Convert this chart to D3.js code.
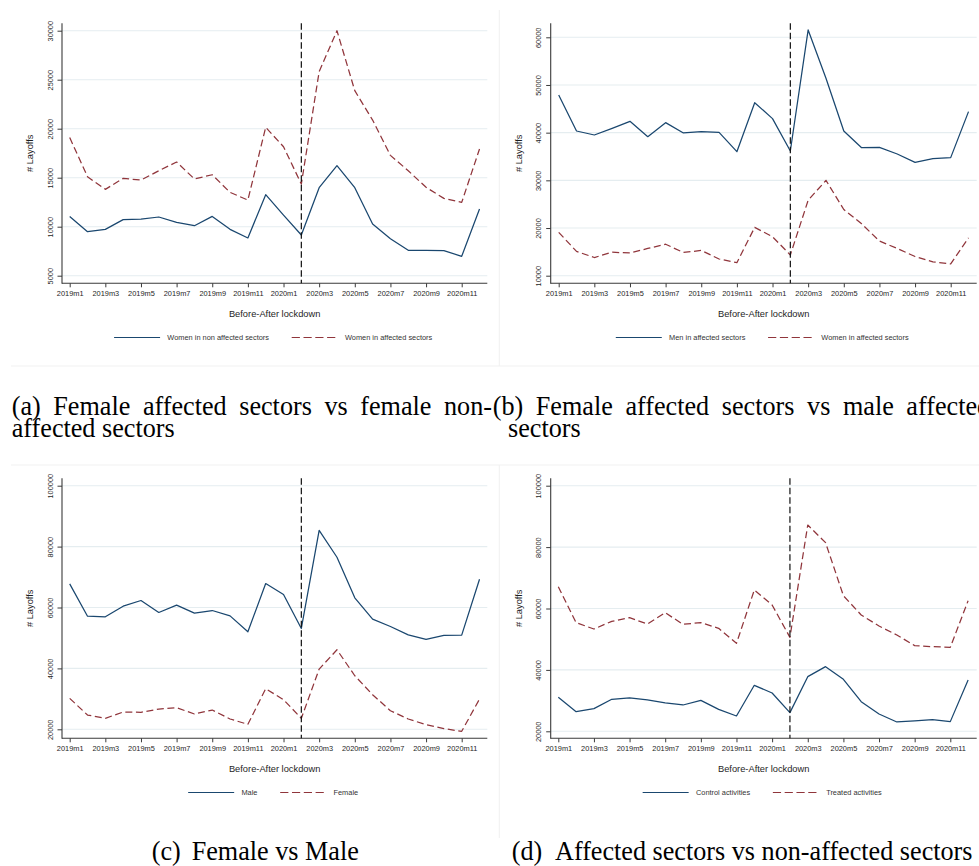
<!DOCTYPE html>
<html>
<head>
<meta charset="utf-8">
<script src="https://cdn.jsdelivr.net/npm/d3@7"></script>
<style>
  body { margin: 0; background: #fff; }
  svg { display: block; }
  text { font-family: "Liberation Sans", Arial, sans-serif; }
  text.cap { font-family: "Liberation Serif", "Times New Roman", serif; }
</style>
</head>
<body>
<svg id="fig" width="979" height="866"></svg>
<script>
// Monthly layoffs, January 2019 to December 2020
const months = [
  "2019m1","2019m2","2019m3","2019m4","2019m5","2019m6","2019m7","2019m8","2019m9","2019m10","2019m11","2019m12",
  "2020m1","2020m2","2020m3","2020m4","2020m5","2020m6","2020m7","2020m8","2020m9","2020m10","2020m11","2020m12"
];
const tickMonths = ["2019m1","2019m3","2019m5","2019m7","2019m9","2019m11","2020m1","2020m3","2020m5","2020m7","2020m9","2020m11"];
const lockdownMonth = "2020m2";

const womenNonAffected = [11050, 9490, 9730, 10720, 10780, 10990, 10440, 10100, 11050, 9730, 8850, 13270,
                          11190, 9150, 13980, 16230, 13980, 10270, 8780, 7590, 7590, 7550, 6980, 11810];
const womenAffected    = [19100, 15100, 13810, 14930, 14760, 15710, 16600, 14870, 15300, 13500, 12720, 20140,
                          18160, 14350, 25820, 30000, 23880, 20880, 17280, 15710, 14020, 12890, 12480, 17930];
const menAffected      = [47900, 40350, 39510, 40910, 42380, 39160, 42100, 39930, 40210, 40070, 36010, 46290,
                          42940, 36150, 61540, 51400, 40350, 36850, 36920, 35520, 33780, 34550, 34760, 44410];
const male             = [67760, 57150, 56940, 60430, 62290, 58360, 60760, 58140, 59010, 57260, 52020, 67870,
                          64260, 53110, 85350, 76500, 63170, 56170, 53770, 51030, 49500, 50820, 50920, 69290];
const female           = [30160, 24690, 23600, 25680, 25570, 26660, 27100, 25020, 26330, 23380, 21630, 33330,
                          29720, 23600, 39780, 46120, 37590, 31360, 26110, 23380, 21520, 20210, 19340, 29940];
const controlActs      = [31070, 26400, 27380, 30420, 30850, 30200, 29230, 28570, 30090, 27160, 24990, 34980,
                          32480, 26080, 37800, 41060, 36930, 29660, 25640, 23040, 23360, 23800, 23150, 36720];
const treatedActs      = [67110, 55390, 53320, 55820, 57010, 54950, 58640, 54840, 55390, 53540, 48660, 66020,
                          61140, 50610, 87190, 81440, 64180, 57880, 54300, 51370, 47900, 47570, 47350, 62550];

const yTicksA = [5000, 10000, 15000, 20000, 25000, 30000];
const yTicksB = [10000, 20000, 30000, 40000, 50000, 60000];
const yTicksCD = [20000, 40000, 60000, 80000, 100000];

const NAVY = "#1a476f", MAROON = "#90353b", GRID = "#e5edf0", AXIS = "#3a3a3a", INK = "#1e1e1e";

// Panel layouts (plot frame + scale anchors)
const panels = [
  { left: 62, right: 487.3, top: 23.3, bottom: 283.3, x0: 69.7, x22: 461.7,
    yDom: [5000, 30000], yRng: [275.7, 30.7], yTicks: yTicksA,
    series: [{ name: "Women in non affected sectors", values: womenNonAffected, color: NAVY, dash: null },
             { name: "Women in affected sectors", values: womenAffected, color: MAROON, dash: "7,3.6" }] },
  { left: 550.7, right: 976.7, top: 23.3, bottom: 283.3, x0: 558.7, x22: 950.7,
    yDom: [10000, 60000], yRng: [275.7, 37.3], yTicks: yTicksB,
    series: [{ name: "Men in affected sectors", values: menAffected, color: NAVY, dash: null },
             { name: "Women in affected sectors", values: womenAffected, color: MAROON, dash: "7,3.6" }] },
  { left: 62, right: 487.3, top: 478.3, bottom: 738.3, x0: 69.7, x22: 461.7,
    yDom: [20000, 100000], yRng: [729.3, 485.7], yTicks: yTicksCD,
    series: [{ name: "Male", values: male, color: NAVY, dash: null },
             { name: "Female", values: female, color: MAROON, dash: "7,3.6" }] },
  { left: 550.7, right: 976.7, top: 478.3, bottom: 738.3, x0: 558.3, x22: 950.3,
    yDom: [20000, 100000], yRng: [731.3, 485.7], yTicks: yTicksCD,
    series: [{ name: "Control activities", values: controlActs, color: NAVY, dash: null },
             { name: "Treated activities", values: treatedActs, color: MAROON, dash: "7,3.6" }] }
];

const svg = d3.select("#fig");

// faint outlines of the graph regions
const frame = svg.append("g").attr("stroke", "#f1f1f1").attr("stroke-width", 1);
frame.append("line").attr("x1", 11).attr("x2", 979).attr("y1", 366).attr("y2", 366);
frame.append("line").attr("x1", 499.3).attr("x2", 499.3).attr("y1", 10).attr("y2", 366);
frame.append("line").attr("x1", 11).attr("x2", 979).attr("y1", 465).attr("y2", 465);
frame.append("line").attr("x1", 499.3).attr("x2", 499.3).attr("y1", 465).attr("y2", 838);

function drawPanel(p) {
  const g = svg.append("g");
  const x = d3.scaleLinear().domain([0, 22]).range([p.x0, p.x22]);
  const y = d3.scaleLinear().domain(p.yDom).range(p.yRng);
  const xi = m => x(months.indexOf(m));

  // horizontal grid
  g.append("g").selectAll("line").data(p.yTicks).join("line")
    .attr("x1", p.left).attr("x2", p.right)
    .attr("y1", d => y(d)).attr("y2", d => y(d))
    .attr("stroke", GRID).attr("stroke-width", 1.1);

  // y axis
  const ya = g.append("g").attr("transform", `translate(${p.left},0)`)
    .call(d3.axisLeft(y).tickValues(p.yTicks).tickSize(4.5).tickSizeOuter(0).tickFormat(d3.format("d")));
  ya.select(".domain").remove();
  ya.selectAll(".tick line").attr("stroke", AXIS);
  ya.selectAll(".tick text")
    .attr("x", 0).attr("dy", null)
    .attr("transform", "translate(-9.3,0) rotate(-90)")
    .attr("text-anchor", "middle")
    .attr("font-size", 7.4).attr("fill", INK);

  // x axis
  const xa = g.append("g").attr("transform", `translate(0,${p.bottom})`)
    .call(d3.axisBottom(x).tickValues(tickMonths.map(m => months.indexOf(m)))
      .tickFormat(i => months[i]).tickSize(4).tickPadding(3.4).tickSizeOuter(0));
  xa.select(".domain").remove();
  xa.selectAll(".tick line").attr("stroke", AXIS);
  xa.selectAll(".tick text").attr("font-size", 7.4).attr("fill", INK);

  // axis lines
  g.append("line").attr("x1", p.left).attr("x2", p.left).attr("y1", p.top).attr("y2", p.bottom + 0.5)
    .attr("stroke", AXIS).attr("stroke-width", 1.1);
  g.append("line").attr("x1", p.left).attr("x2", p.right).attr("y1", p.bottom).attr("y2", p.bottom)
    .attr("stroke", AXIS).attr("stroke-width", 1.1);

  // series
  const line = d3.line().x((d, i) => x(i)).y(d => y(d));
  p.series.forEach(s => {
    g.append("path").datum(s.values)
      .attr("d", line).attr("fill", "none")
      .attr("stroke", s.color).attr("stroke-width", 1.25)
      .attr("stroke-linejoin", "round")
      .attr("stroke-dasharray", s.dash);
  });

  // lockdown marker
  g.append("line").attr("x1", xi(lockdownMonth)).attr("x2", xi(lockdownMonth))
    .attr("y1", p.top).attr("y2", p.bottom)
    .attr("stroke", "#111").attr("stroke-width", 1.2).attr("stroke-dasharray", "6.5,3");

  // titles
  const cx = (p.left + p.right) / 2;
  g.append("text").attr("x", cx).attr("y", p.bottom + 33.5)
    .attr("text-anchor", "middle").attr("font-size", 9.3).attr("fill", INK)
    .text("Before-After lockdown");
  g.append("text")
    .attr("transform", `translate(${p.left - 28.6},${(p.top + p.bottom) / 2}) rotate(-90)`)
    .attr("text-anchor", "middle").attr("font-size", 9.3).attr("fill", INK)
    .text("# Layoffs");

  // legend
  const ly = p.bottom + 54.2, keyW = 46, keyGap = 7.3, itemGap = 22.7;
  const lg = g.append("g");
  const items = p.series.map(s => {
    const t = lg.append("text").attr("font-size", 7.4).attr("fill", "#333").attr("y", ly + 2.6).text(s.name);
    return { s, t, w: t.node().getComputedTextLength() };
  });
  const total = items.reduce((a, it) => a + keyW + keyGap + it.w, 0) + itemGap * (items.length - 1);
  let cur = cx - 1.5 - total / 2;
  items.forEach(it => {
    lg.append("line").attr("x1", cur).attr("x2", cur + keyW).attr("y1", ly).attr("y2", ly)
      .attr("stroke", it.s.color).attr("stroke-width", 1.2).attr("stroke-dasharray", it.s.dash ? "8.2,3.6" : null);
    it.t.attr("x", cur + keyW + keyGap);
    cur += keyW + keyGap + it.w + itemGap;
  });
}
panels.forEach(drawPanel);

// sub-figure captions
const CAP_SIZE = 28;
const capG = svg.append("g");
// horizontal compression of the caption face, derived from the width of a reference phrase
const probe = capG.append("text").attr("class", "cap").attr("font-size", CAP_SIZE).text("affected sectors");
const SX = 163 / probe.node().getComputedTextLength();
probe.remove();

function capWord(str, x, y) {
  const t = capG.append("text").attr("class", "cap").attr("font-size", CAP_SIZE).attr("fill", "#000")
    .attr("transform", `translate(${x},${y}) scale(${SX},1)`).text(str);
  return t.node().getComputedTextLength() * SX;
}
function widthOf(str) {
  const t = capG.append("text").attr("class", "cap").attr("font-size", CAP_SIZE).text(str);
  const w = t.node().getComputedTextLength() * SX;
  t.remove();
  return w;
}
function justified(words, x0, x1, y) {
  const ws = words.map(widthOf);
  const gap = (x1 - x0 - d3.sum(ws)) / (words.length - 1);
  let cur = x0;
  words.forEach((w, i) => { capWord(w, cur, y); cur += ws[i] + gap; });
}
function spaced(words, x0, gap, y) {
  let cur = x0;
  words.forEach(w => { cur += capWord(w, cur, y) + gap; });
}

justified(["(a)", "Female", "affected", "sectors", "vs", "female", "non-"], 11.7, 492, 415);
capWord("affected sectors", 11.7, 437);
spaced(["(b)", "Female", "affected", "sectors", "vs", "male", "affected"], 492.7, 12.6, 415);
capWord("sectors", 508, 437);
capWord("(c)", 151.7, 860);
capWord("Female vs Male", 191.7, 860);
capWord("(d)", 511.7, 860);
capWord("Affected sectors vs non-affected sectors", 555, 860);
</script>
</body>
</html>
